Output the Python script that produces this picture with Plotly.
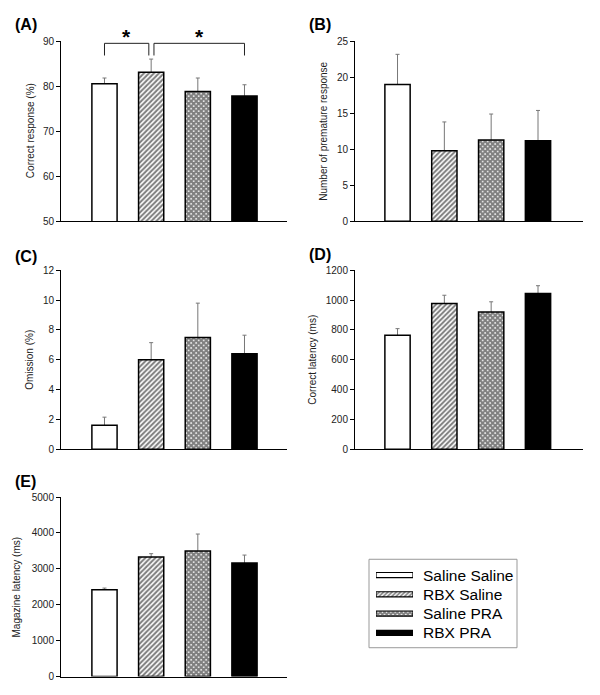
import plotly.graph_objects as go

W, H = 600, 695

groups = ["Saline Saline", "RBX Saline", "Saline PRA", "RBX PRA"]
positions = [0, 1, 2, 3]

correct_mean = [80.5, 83.1, 78.8, 77.8]
correct_sem = [1.3, 2.9, 3.0, 2.5]
premature_mean = [19.0, 9.8, 11.3, 11.2]
premature_sem = [4.2, 4.0, 3.6, 4.2]
omission_mean = [1.6, 6.0, 7.5, 6.4]
omission_sem = [0.55, 1.15, 2.3, 1.25]
corrlat_mean = [765, 978, 921, 1044]
corrlat_sem = [44, 55, 68, 53]
maglat_mean = [2418, 3330, 3494, 3165]
maglat_sem = [46, 93, 476, 219]

fill_colors = ["white", "white", "white", "black"]
pattern_shapes = ["", "/", "x", ""]
pattern_sizes = [0, 3.54, 3.54, 0]
pattern_solidity = [0, 0.55, 0.8, 0]

FONT = "Arial, Liberation Sans, sans-serif"
TXT = "#222222"


def px_x(p):
    return p / W


def px_y(p):
    return 1 - p / H


panels = [
    dict(key="A", mean=correct_mean, sem=correct_sem, ylabel="Correct response (%)",
         yr=[50, 90], dt=10, xd=(61, 287), yd=(35.7, 219), xr=[-0.932, 3.911],
         lab=(13, 19), ylx=30),
    dict(key="B", mean=premature_mean, sem=premature_sem, ylabel="Number of premature response",
         yr=[0, 25], dt=5, xd=(355, 583), yd=(36, 219), xr=[-0.908, 3.961],
         lab=(307, 19), ylx=323.5),
    dict(key="C", mean=omission_mean, sem=omission_sem, ylabel="Omission (%)",
         yr=[0, 12], dt=2, xd=(61, 287), yd=(269, 451), xr=[-0.932, 3.911],
         lab=(13, 255), ylx=30),
    dict(key="D", mean=corrlat_mean, sem=corrlat_sem, ylabel="Correct latency (ms)",
         yr=[0, 1200], dt=200, xd=(355, 583), yd=(269, 451), xr=[-0.908, 3.961],
         lab=(307, 253), ylx=313),
    dict(key="E", mean=maglat_mean, sem=maglat_sem, ylabel="Magazine latency (ms)",
         yr=[0, 5000], dt=1000, xd=(61, 287), yd=(499.7, 682.3), xr=[-0.932, 3.911],
         lab=(13, 484), ylx=16.7),
]


def bar_marker(j, scale, lw):
    m = dict(color=fill_colors[j], line=dict(color="black", width=lw))
    if pattern_shapes[j]:
        m["pattern"] = dict(shape=pattern_shapes[j], fgcolor="black",
                            size=pattern_sizes[j] * scale, solidity=pattern_solidity[j],
                            fillmode="overlay")
    return m


fig = go.Figure()
annotations = []
shapes = []

for i, p in enumerate(panels):
    n = i + 1
    xa = "x" if n == 1 else f"x{n}"
    ya = "y" if n == 1 else f"y{n}"
    # error bars first (symmetric); the bars drawn afterwards hide the lower half
    fig.add_trace(go.Bar(
        x=positions, y=p["mean"], width=0.54, xaxis=xa, yaxis=ya,
        marker=dict(color="rgba(0,0,0,0)", line=dict(width=0)),
        error_y=dict(type="data", array=p["sem"], symmetric=True,
                     color="#777777", thickness=1, width=2),
        showlegend=False, hoverinfo="skip"))
    for j, g in enumerate(groups):
        fig.add_trace(go.Bar(
            x=[positions[j]], y=[p["mean"][j]], width=0.54, xaxis=xa, yaxis=ya,
            marker=bar_marker(j, 1, 1.5), name=g, showlegend=False))
    xkey = "xaxis" if n == 1 else f"xaxis{n}"
    ykey = "yaxis" if n == 1 else f"yaxis{n}"
    fig.update_layout({
        xkey: dict(domain=[px_x(p["xd"][0]), px_x(p["xd"][1])], range=p["xr"],
                   showticklabels=False, ticks="", showgrid=False, zeroline=False,
                   showline=True, linecolor="black", linewidth=1, anchor=ya),
        ykey: dict(domain=[px_y(p["yd"][1]), px_y(p["yd"][0])], range=p["yr"],
                   dtick=p["dt"], tick0=0, ticks="outside", ticklen=4, tickwidth=1,
                   tickcolor="black", showgrid=False, zeroline=False,
                   showline=True, linecolor="black", linewidth=1, anchor=xa,
                   tickfont=dict(family=FONT, size=10, color=TXT)),
    })
    annotations.append(dict(text=f"<b>({p['key']})</b>", xref="paper", yref="paper",
                            x=px_x(p["lab"][0]), y=px_y(p["lab"][1]), xanchor="left",
                            yanchor="middle", showarrow=False,
                            font=dict(family=FONT, size=16, color="black")))
    annotations.append(dict(text=p["ylabel"], xref="paper", yref="paper",
                            x=px_x(p["ylx"]), y=px_y((p["yd"][0] + p["yd"][1]) / 2),
                            textangle=-90, showarrow=False, xanchor="center", yanchor="middle",
                            font=dict(family=FONT, size=10, color=TXT)))

# significance brackets in panel A
brackets = [(0.0, 0.95), (1.06, 3.0)]
br_top, br_bot = 89.5, 86.8
for (a, b) in brackets:
    fig.add_trace(go.Scatter(x=[a, a, b, b], y=[br_bot, br_top, br_top, br_bot],
                             mode="lines", line=dict(color="#222222", width=1),
                             xaxis="x", yaxis="y", showlegend=False, hoverinfo="skip"))
    annotations.append(dict(text="<b>*</b>", xref="x", yref="paper", x=(a + b) / 2,
                            y=px_y(31), showarrow=False, yanchor="middle",
                            font=dict(family=FONT, size=21, color="black")))

# legend built as a small subplot of horizontal swatches
n = 6
for j, g in enumerate(groups):
    fig.add_trace(go.Bar(
        y=[g], x=[1], orientation="h", width=0.27,
        xaxis=f"x{n}", yaxis=f"y{n}", marker=bar_marker(j, 0.85, 1.2),
        showlegend=False, hoverinfo="skip"))
    annotations.append(dict(text=g, xref="paper", yref=f"y{n}", x=px_x(421), y=g,
                            xanchor="left", yanchor="middle", showarrow=False,
                            font=dict(family=FONT, size=15.5, color="black")))
fig.update_layout({
    f"xaxis{n}": dict(domain=[px_x(376), px_x(413)], range=[0, 1], visible=False),
    f"yaxis{n}": dict(domain=[px_y(647.7), px_y(569.3)], range=[3.5, -0.5],
                      visible=False, type="category", categoryarray=groups, anchor=f"x{n}"),
})
shapes.append(dict(type="rect", xref="paper", yref="paper",
                   x0=px_x(369), x1=px_x(517), y0=px_y(653), y1=px_y(563),
                   line=dict(color="#999999", width=1), fillcolor="rgba(0,0,0,0)"))

fig.update_layout(
    width=W, height=H, margin=dict(l=0, r=0, t=0, b=0),
    paper_bgcolor="white", plot_bgcolor="white", barmode="overlay",
    annotations=annotations, shapes=shapes, showlegend=False,
)

fig.write_html("out.html", config={"displayModeBar": False},
               post_script="document.body.style.margin='0';document.body.style.overflow='hidden';")
